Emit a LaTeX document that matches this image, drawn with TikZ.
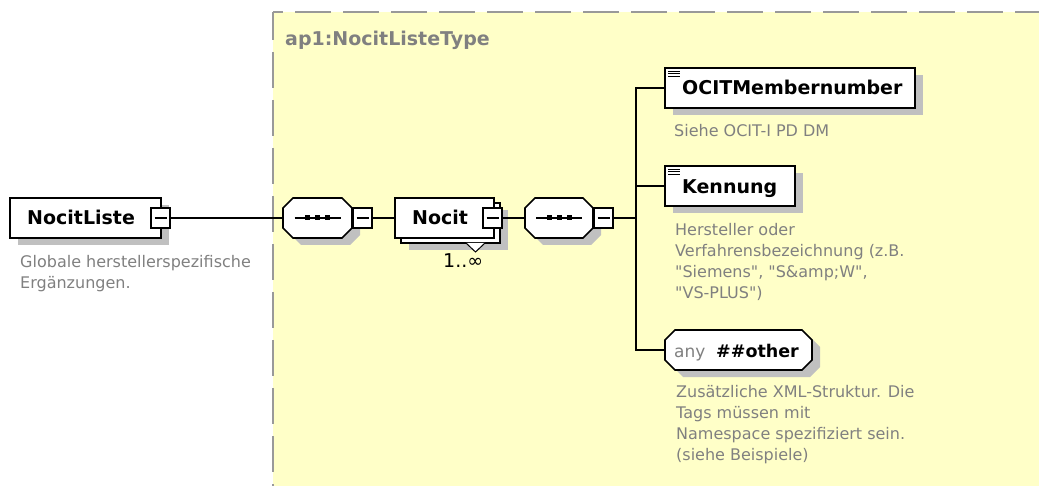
\documentclass[tikz,border=0pt]{standalone}
\usepackage{fontspec}
\setmainfont{DejaVu Sans}[Ligatures=TeXOff]
\usetikzlibrary{shadows}
\definecolor{bgyellow}{HTML}{FFFFC8}
\definecolor{shgray}{HTML}{C0C0C0}
\definecolor{descgray}{HTML}{808080}
\definecolor{bordergray}{HTML}{999999}
% octagon outline: centre x, centre y, width, height, corner cut
\newcommand{\octshape}[5]{({#1-#3/2+#5},{#2-#4/2}) -- ({#1+#3/2-#5},{#2-#4/2}) -- ({#1+#3/2},{#2-#4/2+#5}) -- ({#1+#3/2},{#2+#4/2-#5}) -- ({#1+#3/2-#5},{#2+#4/2}) -- ({#1-#3/2+#5},{#2+#4/2}) -- ({#1-#3/2},{#2+#4/2-#5}) -- ({#1-#3/2},{#2-#4/2+#5}) -- cycle}
\begin{document}
\begin{tikzpicture}[x=1pt,y=-1pt,
  conn/.style={line width=1.6pt, draw=black},
  outline/.style={draw=black, line width=1.6pt, fill=white},
  shadowed/.style={drop shadow={shadow xshift=8pt, shadow yshift=-7pt, fill=shgray, opacity=1}},
  elembox/.style={rectangle, draw=black, line width=1.6pt, fill=white, inner sep=0pt},
  iconbox/.style={path picture={
      \foreach \dy in {3,5.5,8}
        \draw[line width=0.8pt] ([xshift=3pt,yshift=-\dy pt]path picture bounding box.north west) -- ++(12,0);}},
  minusbox/.style={rectangle, draw=black, line width=1.6pt, fill=white, inner sep=0pt,
      minimum width=19pt, minimum height=20pt,
      path picture={\draw[line width=1.4pt] ([xshift=3.5pt]path picture bounding box.west) -- ([xshift=-3.5pt]path picture bounding box.east);}},
  anchorbox/.style={rectangle, inner sep=0pt, minimum height=40pt},
  seqmark/.style={line width=1.4pt},
  btext/.style={font=\bfseries\fontsize{19}{23}\selectfont, anchor=base west, inner sep=0pt},
  desc/.style={text=descgray, font=\fontsize{16}{21}\selectfont, align=left, anchor=north west, inner sep=0pt},
]
\useasboundingbox (0,0) rectangle (1039,486);
\fill[white] (0,0) rectangle (1039,486);

% complex type area
\fill[bgyellow] (273,12) rectangle (1039,486);
\draw[bordergray, line width=2pt, dash pattern=on 36pt off 12pt, dash phase=26pt] (273,12) -- (1039,12);
\draw[bordergray, line width=2pt, dash pattern=on 36pt off 12pt, dash phase=8pt] (273,12) -- (273,486);
\node[text=descgray, font=\bfseries\fontsize{19}{23}\selectfont, anchor=base west, inner sep=0pt] (title) at (285,46) {ap1:NocitListeType};

% root element
\node[elembox, shadowed, minimum width=151pt, minimum height=40pt] (nl) at (85.5,218) {};
\node[btext] (nlt) at (27,225) {NocitListe};
\node[minusbox] (nlm) at (160.5,218) {};
\node[desc] (nld) at (20,255) {Globale herstellerspezifische\\Ergänzungen.};

% sequence 1
\fill[shgray] \octshape{325.5}{225}{69}{40}{10};
\path[outline] \octshape{317.5}{218}{69}{40}{10};
\node[anchorbox, minimum width=69pt] (s1) at (317.5,218) {};
\draw[seqmark] ([xshift=-23pt]s1.center) -- ([xshift=23pt]s1.center);
\foreach \dx in {-10,0,10}
  \fill[black] ([xshift=\dx pt]s1.center) ++(-2.5,-2.5) rectangle ++(5,5);
\node[minusbox] (s1m) at (362.5,218) {};

% Nocit (repeated element)
\node[elembox, shadowed, minimum width=99pt, minimum height=40pt] (nocb) at (450.5,223) {};
\draw[line width=1pt, fill=white] (466,243) -- (475.5,252) -- (485,243);
\node[elembox, minimum width=99pt, minimum height=40pt] (noc) at (444.5,218) {};
\node[btext] (noct) at (412,225) {Nocit};
\node[minusbox] (nocm) at (492.5,218) {};
\node[font=\fontsize{19}{22}\selectfont, anchor=base west, inner sep=0pt] (card) at (443,268) {1..∞};

% sequence 2
\fill[shgray] \octshape{567}{225}{68}{40}{10};
\path[outline] \octshape{559}{218}{68}{40}{10};
\node[anchorbox, minimum width=68pt] (s2) at (559,218) {};
\draw[seqmark] ([xshift=-23pt]s2.center) -- ([xshift=23pt]s2.center);
\foreach \dx in {-10,0,10}
  \fill[black] ([xshift=\dx pt]s2.center) ++(-2.5,-2.5) rectangle ++(5,5);
\node[minusbox] (s2m) at (603.5,218) {};
\coordinate (bus) at (636,218);

% children
\node[elembox, iconbox, shadowed, minimum width=250pt, minimum height=40pt] (ocit) at (790,88) {};
\node[btext] (ocitt) at (682,95) {OCITMembernumber};
\node[desc] (ocitd) at (674,124) {Siehe OCIT-I PD DM};

\node[elembox, iconbox, shadowed, minimum width=130pt, minimum height=40pt] (kenn) at (730,186) {};
\node[btext] (kennt) at (682,194) {Kennung};
\node[desc] (kennd) at (675,223) {Hersteller oder\\Verfahrensbezeichnung (z.B.\\"Siemens", "S\&amp;W",\\"VS-PLUS")};

\fill[shgray] \octshape{746.5}{357}{147}{40}{10};
\path[outline] \octshape{738.5}{350}{147}{40}{10};
\node[anchorbox, minimum width=147pt] (any) at (738.5,350) {};
\node[text=descgray, font=\fontsize{17}{20}\selectfont, anchor=base west, inner sep=0pt] (anyt) at (674,357) {any};
\node[font=\bfseries\fontsize{17.5}{21}\selectfont, anchor=base west, inner sep=0pt] (anyo) at (716,357) {\#\#other};
\node[desc] (anyd) at (676,385) {Zusätzliche XML-Struktur. Die\\Tags müssen mit\\Namespace spezifiziert sein.\\(siehe Beispiele)};

% connectors
\draw[conn] (nlm.east) -- (s1.west);
\draw[conn] (s1m.east) -- (noc.west);
\draw[conn] (nocm.east) -- (s2.west);
\draw[conn] (s2m.east) -- (bus);
\draw[conn] (ocit.west) -| (bus);
\draw[conn] (kenn.west) -| (bus);
\draw[conn] (any.west) -| (bus);
\end{tikzpicture}
\end{document}
